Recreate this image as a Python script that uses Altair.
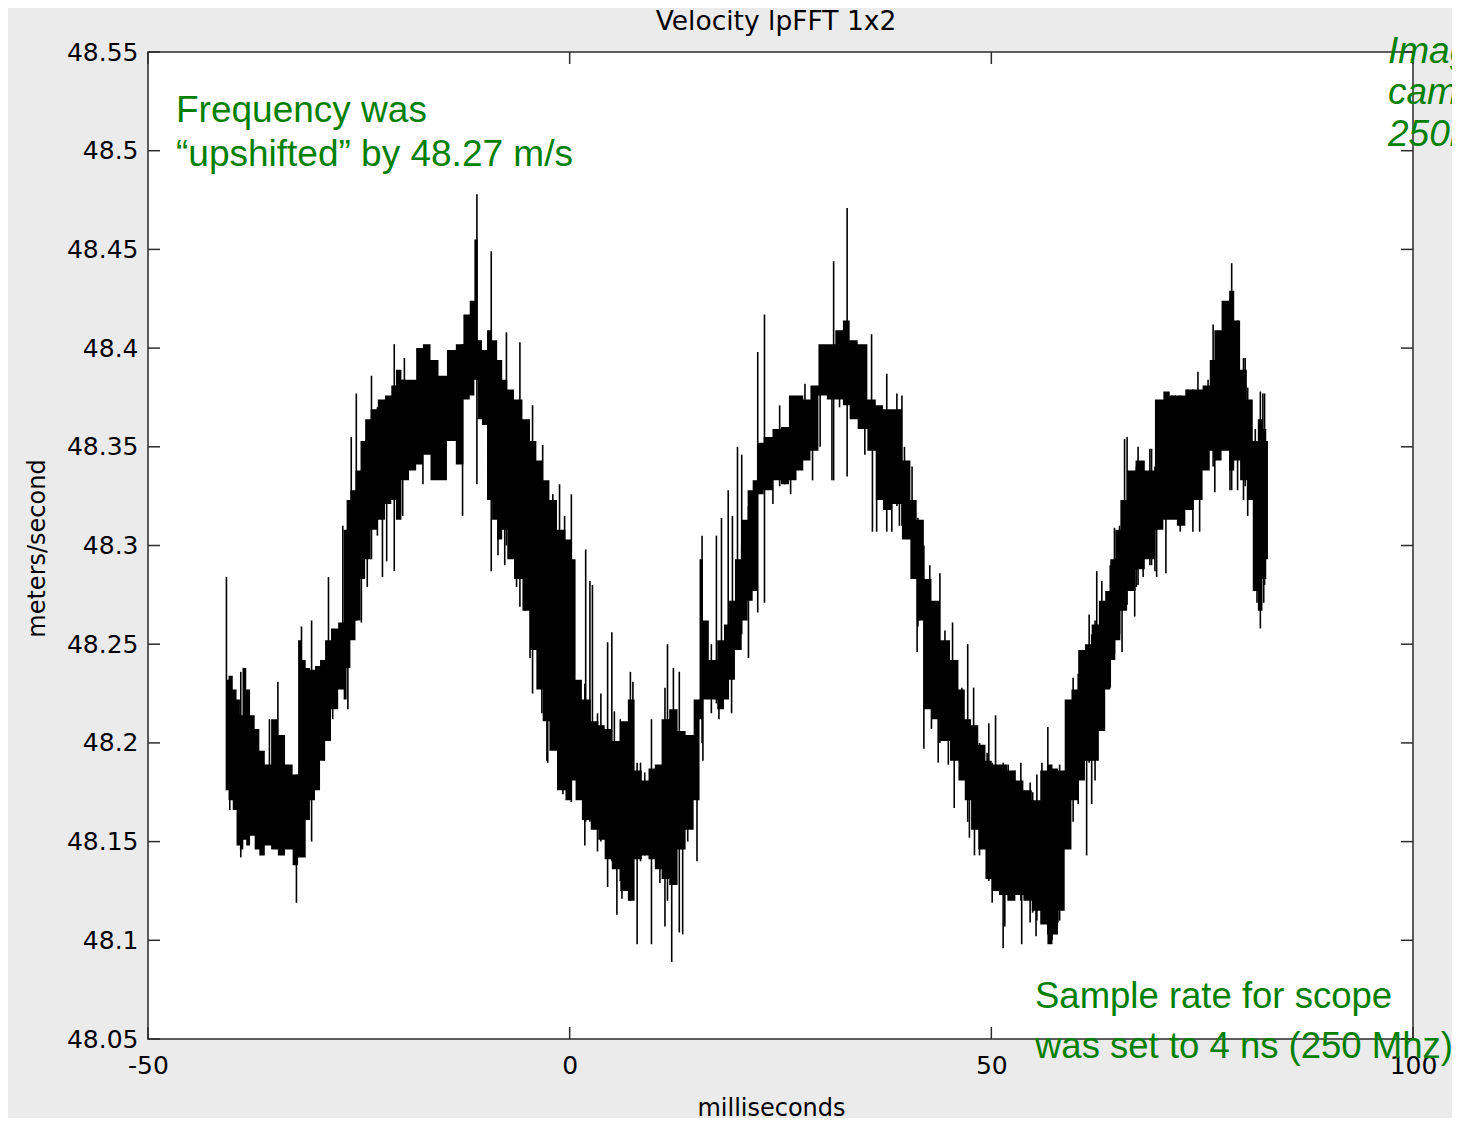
import altair as alt
import pandas as pd

# ---- trace envelope (ms, m/s) ----
band_t = [
    -40.7, -40.2, -39.7, -39.3, -38.9, -38.5, -38.2, -37.6, -37.1, -36.5,
    -35.8, -35.0, -34.2, -33.3, -32.4, -32.0, -31.5, -31.1, -30.5, -29.9,
    -29.3, -28.7, -27.9, -27.0, -26.6, -26.3, -25.7, -25.1, -24.5, -24.0,
    -23.2, -22.3, -21.5, -20.8, -20.4, -19.5, -18.6, -17.8, -17.0, -16.0,
    -15.1, -14.0, -13.0, -12.2, -11.5, -11.1, -10.7, -10.1, -9.5, -8.9,
    -8.3, -7.7, -7.1, -6.1, -5.1, -4.3, -3.6, -2.8, -2.0, -1.0,
    0.0, 0.5, 0.9, 2.0, 3.0, 3.8, 4.5, 5.5, 6.5, 7.3,
    8.1, 9.0, 9.7, 10.5, 11.3, 12.3, 13.3, 14.2, 15.2, 15.6,
    16.0, 17.0, 18.0, 18.6, 19.2, 20.0, 20.8, 21.4, 22.0, 22.5,
    23.5, 24.6, 25.5, 26.5, 27.3, 28.1, 29.0, 30.0, 31.0, 32.0,
    32.8, 33.6, 34.7, 35.9, 36.7, 37.6, 38.8, 40.0, 40.8, 41.5,
    42.5, 43.3, 44.5, 45.7, 46.5, 47.2, 48.0, 48.9, 49.7, 50.4,
    51.4, 52.4, 53.3, 54.3, 55.3, 56.3, 57.0, 57.5, 58.3, 59.1,
    59.9, 60.7, 61.5, 62.3, 63.2, 63.8, 64.4, 65.0, 65.6, 66.6,
    67.6, 68.8, 70.0, 70.8, 71.5, 72.5, 73.5, 74.5, 75.6, 76.2,
    76.7, 77.9, 78.5, 79.1, 79.9, 80.7, 81.3, 81.9, 82.4, 82.8,
]
band_hi = [
    48.232, 48.234, 48.227, 48.222, 48.214, 48.238, 48.227, 48.214, 48.207, 48.196,
    48.189, 48.212, 48.204, 48.189, 48.184, 48.252, 48.242, 48.238, 48.237, 48.239,
    48.242, 48.252, 48.258, 48.261, 48.308, 48.323, 48.328, 48.338, 48.353, 48.364,
    48.369, 48.374, 48.376, 48.381, 48.389, 48.384, 48.384, 48.400, 48.402, 48.394,
    48.386, 48.399, 48.402, 48.417, 48.424, 48.455, 48.404, 48.399, 48.409, 48.404,
    48.394, 48.384, 48.379, 48.374, 48.364, 48.353, 48.343, 48.333, 48.323, 48.308,
    48.303, 48.293, 48.232, 48.222, 48.211, 48.209, 48.207, 48.201, 48.211, 48.222,
    48.186, 48.181, 48.187, 48.189, 48.212, 48.217, 48.206, 48.204, 48.222, 48.293,
    48.262, 48.242, 48.252, 48.260, 48.272, 48.293, 48.313, 48.328, 48.333, 48.352,
    48.355, 48.359, 48.360, 48.376, 48.376, 48.374, 48.381, 48.402, 48.402, 48.409,
    48.414, 48.404, 48.402, 48.374, 48.371, 48.369, 48.369, 48.343, 48.323, 48.313,
    48.283, 48.272, 48.252, 48.242, 48.227, 48.212, 48.209, 48.199, 48.191, 48.189,
    48.189, 48.186, 48.181, 48.176, 48.171, 48.186, 48.189, 48.187, 48.186, 48.222,
    48.227, 48.247, 48.250, 48.260, 48.272, 48.277, 48.293, 48.308, 48.323, 48.338,
    48.343, 48.338, 48.374, 48.378, 48.376, 48.376, 48.379, 48.379, 48.381, 48.394,
    48.409, 48.424, 48.429, 48.414, 48.389, 48.374, 48.353, 48.364, 48.359, 48.353,
]
band_lo = [
    48.176, 48.171, 48.166, 48.148, 48.146, 48.151, 48.148, 48.153, 48.146, 48.143,
    48.148, 48.146, 48.143, 48.146, 48.138, 48.142, 48.142, 48.161, 48.171, 48.176,
    48.191, 48.201, 48.217, 48.227, 48.222, 48.238, 48.252, 48.262, 48.283, 48.293,
    48.308, 48.313, 48.321, 48.323, 48.313, 48.333, 48.338, 48.341, 48.346, 48.333,
    48.333, 48.353, 48.341, 48.374, 48.376, 48.384, 48.364, 48.361, 48.323, 48.313,
    48.303, 48.308, 48.293, 48.283, 48.267, 48.247, 48.227, 48.211, 48.196, 48.176,
    48.171, 48.181, 48.171, 48.161, 48.156, 48.151, 48.141, 48.136, 48.125, 48.120,
    48.141, 48.143, 48.141, 48.136, 48.131, 48.128, 48.146, 48.156, 48.171, 48.212,
    48.222, 48.222, 48.217, 48.222, 48.232, 48.247, 48.262, 48.272, 48.277, 48.326,
    48.328, 48.333, 48.331, 48.333, 48.338, 48.343, 48.348, 48.376, 48.374, 48.374,
    48.371, 48.364, 48.359, 48.348, 48.323, 48.318, 48.321, 48.303, 48.283, 48.262,
    48.217, 48.212, 48.201, 48.191, 48.181, 48.171, 48.156, 48.146, 48.131, 48.125,
    48.123, 48.120, 48.123, 48.120, 48.115, 48.108, 48.098, 48.103, 48.115, 48.146,
    48.171, 48.181, 48.191, 48.191, 48.206, 48.227, 48.242, 48.252, 48.267, 48.277,
    48.288, 48.293, 48.308, 48.313, 48.313, 48.310, 48.318, 48.323, 48.338, 48.348,
    48.343, 48.348, 48.338, 48.343, 48.333, 48.323, 48.277, 48.267, 48.283, 48.293,
]

# ---- large isolated noise spikes ----
spike_t = [
    -40.7, -39.0, -32.4, -28.6, -25.9, -25.3, -23.5, -20.8, -19.8, -12.7,
    -11.0, -9.3, -7.5, -5.9, -4.4, -3.2, -2.7, -1.2, -0.8, 0.2,
    1.8, 1.9, 2.4, 3.3, 4.5, 5.0, 5.6, 7.2, 8.0, 9.7,
    11.3, 11.6, 12.1, 13.0, 15.1, 17.4, 18.0, 19.2, 19.9, 20.4,
    21.2, 22.3, 23.1, 24.9, 26.2, 31.3, 32.9, 35.0, 35.9, 37.6,
    39.4, 41.2, 42.0, 43.9, 45.6, 47.2, 48.0, 49.7, 50.5, 51.4,
    53.6, 54.6, 55.3, 56.7, 57.9, 61.3, 61.6, 62.5, 63.1, 65.5,
    66.1, 67.0, 67.4, 69.0, 69.6, 70.7, 72.4, 74.7, 76.3, 76.5,
    78.5, 79.9, 81.9, 82.4,
]
spike_lo = [
    48.176, 48.142, 48.119, 48.201, 48.262, 48.262, 48.293, 48.287, 48.315, 48.315,
    48.331, 48.287, 48.300, 48.269, 48.225, 48.230, 48.191, 48.180, 48.174, 48.170,
    48.148, 48.160, 48.160, 48.145, 48.127, 48.140, 48.113, 48.120, 48.098, 48.098,
    48.107, 48.120, 48.089, 48.104, 48.140, 48.220, 48.220, 48.215, 48.250, 48.255,
    48.243, 48.266, 48.271, 48.330, 48.326, 48.333, 48.335, 48.346, 48.307, 48.307,
    48.310, 48.246, 48.197, 48.200, 48.167, 48.160, 48.143, 48.130, 48.125, 48.096,
    48.098, 48.109, 48.102, 48.103, 48.109, 48.143, 48.190, 48.200, 48.210, 48.246,
    48.270, 48.264, 48.280, 48.290, 48.284, 48.286, 48.307, 48.307, 48.340, 48.327,
    48.328, 48.323, 48.258, 48.280,
]
spike_hi = [
    48.284, 48.236, 48.184, 48.284, 48.355, 48.377, 48.386, 48.402, 48.384, 48.402,
    48.478, 48.449, 48.408, 48.403, 48.371, 48.351, 48.330, 48.331, 48.300, 48.326,
    48.230, 48.298, 48.282, 48.215, 48.251, 48.256, 48.200, 48.236, 48.190, 48.212,
    48.228, 48.250, 48.200, 48.236, 48.220, 48.305, 48.314, 48.272, 48.350, 48.346,
    48.320, 48.398, 48.417, 48.371, 48.370, 48.444, 48.471, 48.400, 48.370, 48.387,
    48.376, 48.310, 48.300, 48.286, 48.240, 48.250, 48.200, 48.210, 48.214, 48.190,
    48.180, 48.180, 48.170, 48.208, 48.186, 48.240, 48.265, 48.287, 48.282, 48.300,
    48.355, 48.330, 48.350, 48.349, 48.340, 48.350, 48.376, 48.376, 48.412, 48.390,
    48.443, 48.395, 48.378, 48.377,
]

# ---- smaller ragged-edge spikes ----
edge_t = [
    -40.3, -38.7, -35.6, -34.6, -31.8, -30.6, -29.1, -28.1, -26.9, -26.3,
    -24.7, -24.0, -22.8, -22.2, -21.7, -19.6, -17.4, -8.5, -7.7, -6.3,
    -5.3, -4.7, -3.3, -2.6, -2.0, -1.4, -0.6, 2.7, 3.7, 5.3,
    6.0, 6.2, 6.6, 7.5, 8.4, 8.9, 10.7, 12.3, 13.4, 14.0,
    15.7, 15.8, 16.8, 17.7, 18.8, 19.3, 20.4, 24.1, 25.5, 27.5,
    27.9, 28.8, 29.7, 31.1, 32.0, 35.8, 36.4, 38.2, 38.8, 39.1,
    39.7, 40.6, 41.3, 41.5, 42.7, 42.9, 43.7, 44.5, 44.9, 45.4,
    46.5, 47.4, 47.9, 48.6, 49.5, 50.1, 51.6, 52.0, 52.8, 53.5,
    54.9, 55.4, 56.0, 57.2, 58.1, 59.7, 60.3, 60.9, 61.9, 62.3,
    64.1, 64.6, 65.2, 65.8, 67.2, 68.0, 68.8, 69.4, 71.4, 71.8,
    73.3, 73.9, 74.5, 75.7, 77.5, 78.3, 79.2, 80.1, 80.4, 81.3,
    81.5, 82.2, 82.3,
]
edge_lo = [
    48.166, 48.160, 48.150, 48.150, 48.180, 48.150, 48.191, 48.212, 48.240, 48.217,
    48.261, 48.279, 48.305, 48.284, 48.292, 48.340, 48.331, 48.295, 48.290, 48.279,
    48.267, 48.243, 48.215, 48.190, 48.200, 48.191, 48.180, 48.165, 48.150, 48.140,
    48.130, 48.121, 48.127, 48.125, 48.140, 48.143, 48.129, 48.130, 48.103, 48.150,
    48.200, 48.191, 48.215, 48.212, 48.225, 48.235, 48.264, 48.321, 48.331, 48.341,
    48.345, 48.333, 48.350, 48.333, 48.370, 48.350, 48.307, 48.307, 48.320, 48.310,
    48.310, 48.290, 48.259, 48.262, 48.230, 48.207, 48.190, 48.210, 48.189, 48.200,
    48.185, 48.152, 48.165, 48.143, 48.135, 48.119, 48.107, 48.125, 48.127, 48.120,
    48.114, 48.110, 48.110, 48.100, 48.110, 48.160, 48.169, 48.185, 48.169, 48.181,
    48.228, 48.245, 48.255, 48.270, 48.279, 48.284, 48.290, 48.287, 48.318, 48.323,
    48.328, 48.307, 48.323, 48.341, 48.362, 48.328, 48.328, 48.330, 48.315, 48.300,
    48.271, 48.290, 48.271,
]
edge_hi = [
    48.230, 48.238, 48.212, 48.231, 48.259, 48.262, 48.240, 48.255, 48.310, 48.300,
    48.330, 48.350, 48.370, 48.360, 48.370, 48.395, 48.390, 48.390, 48.380, 48.370,
    48.360, 48.350, 48.340, 48.320, 48.326, 48.300, 48.315, 48.280, 48.225, 48.216,
    48.212, 48.200, 48.205, 48.231, 48.190, 48.185, 48.188, 48.238, 48.200, 48.203,
    48.305, 48.250, 48.250, 48.250, 48.328, 48.315, 48.300, 48.355, 48.358, 48.375,
    48.382, 48.378, 48.385, 48.390, 48.408, 48.407, 48.360, 48.365, 48.377, 48.360,
    48.350, 48.340, 48.314, 48.301, 48.290, 48.270, 48.260, 48.257, 48.240, 48.261,
    48.228, 48.210, 48.228, 48.200, 48.195, 48.190, 48.185, 48.189, 48.186, 48.190,
    48.175, 48.184, 48.190, 48.185, 48.189, 48.233, 48.235, 48.238, 48.255, 48.262,
    48.290, 48.309, 48.310, 48.354, 48.340, 48.340, 48.349, 48.340, 48.376, 48.376,
    48.379, 48.379, 48.388, 48.384, 48.420, 48.425, 48.414, 48.395, 48.380, 48.359,
    48.350, 48.377, 48.350,
]

x_ticks = [-50, 0, 50, 100]
y_ticks = [48.05, 48.1, 48.15, 48.2, 48.25, 48.3, 48.35, 48.4, 48.45, 48.5, 48.55]

W, H = 1265, 987
FRAME = "#2b2b2b"
GREEN = "#008000"
AXFONT = "DejaVu Sans"
GFONT = "Liberation Sans"

xs = alt.Scale(domain=[-50, 100], nice=False, zero=False)
ys = alt.Scale(domain=[48.05, 48.55], nice=False, zero=False)

band = pd.DataFrame({"t": band_t, "hi": band_hi, "lo": band_lo})
spikes = pd.DataFrame({"t": spike_t + edge_t, "lo": spike_lo + edge_lo, "hi": spike_hi + edge_hi})
xt = pd.DataFrame({"t": x_ticks})
yt = pd.DataFrame({"hi": y_ticks})
one = pd.DataFrame({"k": [0]})

x_axis = alt.Axis(
    values=x_ticks, labelExpr="datum.value + ''", ticks=False, domain=False, grid=False,
    labelFont=AXFONT, labelFontSize=25, labelColor="black", labelPadding=14,
    labelFlush=False, labelOverlap=False,
    title="milliseconds", titleFont=AXFONT, titleFontSize=24, titleFontWeight="normal",
    titleColor="black", titleX=623, titleY=76, titleBaseline="alphabetic",
)
y_axis = alt.Axis(
    values=y_ticks, format=".2~f", ticks=False, domain=False, grid=False,
    labelFont=AXFONT, labelFontSize=25, labelColor="black", labelPadding=10,
    labelOverlap=False,
    title="meters/second", titleFont=AXFONT, titleFontSize=24, titleFontWeight="normal",
    titleColor="black", titleAngle=270, titleX=-111, titleY=496,
    titleBaseline="middle", titleAlign="center",
)


def X(field):
    return alt.X(field, type="quantitative", scale=xs, axis=x_axis, title="milliseconds")


def Y(field):
    return alt.Y(field, type="quantitative", scale=ys, axis=y_axis, title="meters/second")


band_layer = alt.Chart(band).mark_area(color="black", interpolate="step", opacity=1).encode(
    x=X("t"), y=Y("hi"), y2="lo",
)
spike_layer = alt.Chart(spikes).mark_rule(color="black", strokeWidth=1.6).encode(
    x=X("t"), y=Y("lo"), y2="hi",
)

tick_bottom = alt.Chart(xt).mark_rule(color=FRAME, strokeWidth=1.5).encode(
    x=X("t"), y=alt.value(H - 12), y2=alt.value(H))
tick_top = alt.Chart(xt).mark_rule(color=FRAME, strokeWidth=1.5).encode(
    x=X("t"), y=alt.value(0), y2=alt.value(12))
tick_left = alt.Chart(yt).mark_rule(color=FRAME, strokeWidth=1.5).encode(
    y=Y("hi"), x=alt.value(0), x2=alt.value(12))
tick_right = alt.Chart(yt).mark_rule(color=FRAME, strokeWidth=1.5).encode(
    y=Y("hi"), x=alt.value(W - 12), x2=alt.value(W))


def label(text, px, py, font, size, color, style="normal", align="left"):
    return alt.Chart(one).mark_text(
        text=text, font=font, fontSize=size, color=color, fontStyle=style,
        align=align, baseline="alphabetic",
    ).encode(x=alt.value(px), y=alt.value(py))


texts = [
    label("Velocity lpFFT 1x2", 628, -22, AXFONT, 26.5, "black", align="center"),
    label("Frequency was", 28, 70, GFONT, 37, GREEN),
    label("\u201cupshifted\u201d by 48.27 m/s", 28, 114, GFONT, 37, GREEN),
    label("Sample rate for scope", 887, 956, GFONT, 36.5, GREEN),
    label("was set to 4 ns (250 Mhz)", 887, 1006, GFONT, 36.5, GREEN),
    label("Image", 1240, 11, GFONT, 37, GREEN, style="italic"),
    label("camera", 1240, 52, GFONT, 37, GREEN, style="italic"),
    label("250kHz", 1240, 94, GFONT, 37, GREEN, style="italic"),
]

chart = alt.layer(
    band_layer, spike_layer, tick_bottom, tick_top, tick_left, tick_right, *texts
).properties(
    width=W, height=H, background="#ebebeb",
    padding={"left": 140, "top": 44, "right": 39, "bottom": 79},
    autosize=alt.AutoSizeParams(type="none"),
).configure_view(
    fill="white", stroke=FRAME, strokeWidth=1.5,
)

chart.save("out.html", embed_options={"renderer": "svg", "actions": False})
